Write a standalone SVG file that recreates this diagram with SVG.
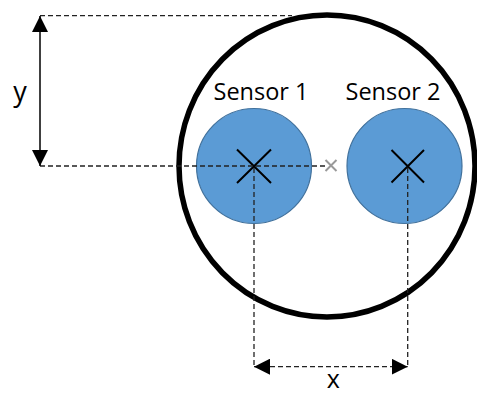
<svg xmlns="http://www.w3.org/2000/svg" width="477" height="395" viewBox="0 0 477 395">
  <defs>
    <style>
      .lbl { font-family: "Open Sans", "DejaVu Sans", sans-serif; fill: #000; }
      .dash { stroke: #222; stroke-width: 1.3; stroke-dasharray: 5 3; fill: none; }
      .sensor { fill: #5B9BD5; stroke: #41719C; stroke-width: 1.2; }
      .cross { stroke: #000; stroke-width: 2; fill: none; }
    </style>
    <marker id="ah" viewBox="0 0 10 10" refX="10" refY="5" markerWidth="16" markerHeight="16" markerUnits="userSpaceOnUse" orient="auto-start-reverse">
      <path d="M0,0 L10,5 L0,10 Z" fill="#000"/>
    </marker>
  </defs>
  <rect width="477" height="395" fill="#fff"/>
  <g id="housing">
    <ellipse cx="327" cy="166" rx="148" ry="151" fill="none" stroke="#000" stroke-width="5.5"/>
  </g>
  <g id="sensor1">
    <circle class="sensor" cx="254" cy="166" r="57.5"/>
    <path class="cross" d="M237,149.5 L271,183 M271,149.5 L237,183"/>
    <text class="lbl" x="261" y="99.5" font-size="23.5" text-anchor="middle">Sensor 1</text>
  </g>
  <g id="sensor2">
    <circle class="sensor" cx="404.5" cy="166" r="57.5"/>
    <path class="cross" d="M391.5,150 L424,182.5 M424,150 L391.5,182.5"/>
    <text class="lbl" x="393" y="99.5" font-size="23.5" text-anchor="middle">Sensor 2</text>
  </g>
  <g id="center-mark">
    <path d="M325.5,160 L336.5,171 M336.5,160 L325.5,171" stroke="#999" stroke-width="2" fill="none"/>
  </g>
  <g id="connectors">
    <line class="dash" x1="40" y1="15.7" x2="292" y2="15.7"/>
    <line class="dash" x1="40" y1="166" x2="325" y2="166"/>
    <line class="dash" x1="254" y1="168" x2="254" y2="367"/>
    <line class="dash" x1="407.7" y1="168" x2="407.7" y2="367"/>
    <line x1="40" y1="16" x2="40" y2="166" stroke="#000" stroke-width="1.5" marker-start="url(#ah)" marker-end="url(#ah)"/>
    <line class="dash" x1="254" y1="366.7" x2="407.7" y2="366.7" marker-start="url(#ah)" marker-end="url(#ah)"/>
  </g>
  <g id="labels">
    <text class="lbl" x="20" y="100.5" font-size="27" text-anchor="middle">y</text>
    <text class="lbl" x="333.3" y="387.5" font-size="25" text-anchor="middle">x</text>
  </g>
</svg>
